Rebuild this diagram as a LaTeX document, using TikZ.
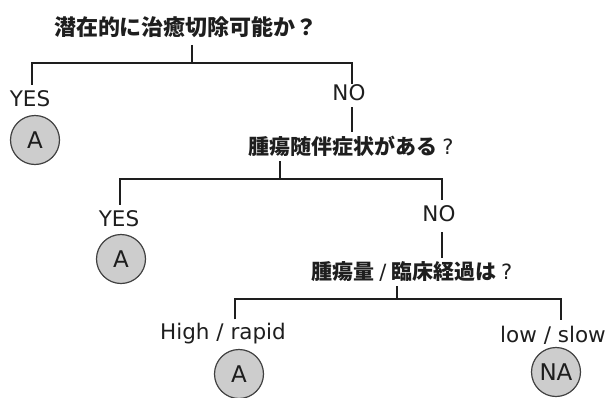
\documentclass[tikz,border=0pt]{standalone}
\usepackage{fontspec}
\setmainfont{DejaVu Sans}
\newfontfamily\cjk{Noto Sans CJK JP}
\definecolor{ink}{HTML}{1E1E1E}
\definecolor{disc}{HTML}{CDCDCD}
\begin{document}
\begin{tikzpicture}[x=1pt,y=-1pt,
  qbox/.style={font=\cjk\bfseries\fontsize{21}{21}\selectfont, inner sep=0pt, text=ink},
  lab/.style={font=\fontsize{21.5}{21.5}\selectfont, inner sep=0pt, text=ink},
  res/.style={circle, draw=ink!85, line width=1.2pt, fill=disc, minimum size=49pt, inner sep=0pt, font=\fontsize{23}{23}\selectfont, text=ink},
  ln/.style={line width=2.2pt, draw=ink, line cap=butt, line join=miter}]
\useasboundingbox (0,0) rectangle (606,397);
% nodes
\node[qbox, font=\cjk\bfseries\fontsize{22}{22}\selectfont] (q1) at (186,27) {潜在的に治癒切除可能か？};
\node[lab] (yes1) at (30,99) {YES};
\node[res] (a1) at (35,140) {A};
\node[lab] (no1) at (349,93) {NO};
\node[qbox] (q2) at (351,146) {腫瘍随伴症状がある {\normalfont\fontsize{21}{21}\selectfont ?}};
\node[lab] (yes2) at (119,219) {YES};
\node[res] (a2) at (121,259) {A};
\node[lab] (no2) at (439,214) {NO};
\node[qbox] (q3) at (412,272) {腫瘍量 {\normalfont\fontsize{21}{21}\selectfont /} 臨床経過は {\normalfont\fontsize{21}{21}\selectfont ?}};
\node[lab] (hr) at (223,334) {High / rapid};
\node[res] (a3) at (239,374) {A};
\node[lab] (ls) at (553,335) {low / slow};
\node[res] (na) at (556,372) {NA};
% junctions
\coordinate (j1) at (192,63);
\coordinate (j2) at (280,179);
\coordinate (j3) at (397,299);
\coordinate (c1) at (32,0);
\coordinate (c2) at (352,0);
\coordinate (c3) at (120,0);
\coordinate (c4) at (442,0);
\coordinate (c5) at (235,0);
\coordinate (c6) at (561,0);
% level 1
\draw[ln] ([yshift=-7pt]q1.south -| j1) -- (j1);
\draw[ln] ([yshift=6pt]yes1.north -| c1) -- (c1 |- j1) -- (c2 |- j1) -- ([yshift=1pt]no1.north -| c2);
\draw[ln] ([yshift=-6pt]no1.south -| c2) -- ([yshift=4pt]q2.north -| c2);
% level 2
\draw[ln] ([yshift=-5pt]q2.south -| j2) -- (j2);
\draw[ln] ([yshift=6pt]yes2.north -| c3) -- (c3 |- j2) -- (c4 |- j2) -- ([yshift=6pt]no2.north -| c4);
\draw[ln] ([yshift=-10pt]no2.south -| c4) -- ([yshift=4pt]q3.north -| c4);
% level 3
\draw[ln] ([yshift=-4pt]q3.south -| j3) -- (j3);
\draw[ln] ([yshift=4pt]hr.north -| c5) -- (c5 |- j3) -- (c6 |- j3) -- ([yshift=6pt]ls.north -| c6);
\end{tikzpicture}
\end{document}
